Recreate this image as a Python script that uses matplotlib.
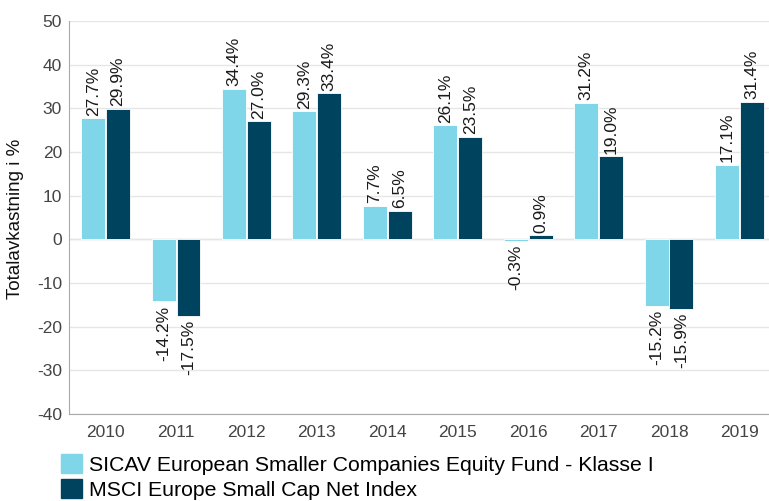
import matplotlib
matplotlib.use('Agg')
import matplotlib.pyplot as plt
from matplotlib.patches import Patch
import numpy as np

plt.rcParams['font.family'] = ['Liberation Sans', 'DejaVu Sans']
plt.rcParams['axes.unicode_minus'] = False

# data
years = ['2010', '2011', '2012', '2013', '2014', '2015', '2016', '2017', '2018', '2019']
fund = [27.7, -14.2, 34.4, 29.3, 7.7, 26.1, -0.3, 31.2, -15.2, 17.1]
index = [29.9, -17.5, 27.0, 33.4, 6.5, 23.5, 0.9, 19.0, -15.9, 31.4]
fund_name = 'SICAV European Smaller Companies Equity Fund - Klasse I'
index_name = 'MSCI Europe Small Cap Net Index'

light = '#7fd6e8'
dark = '#00435f'

fig = plt.figure(figsize=(7.69, 5.01), dpi=100)
ax = fig.add_axes([69/769, 87/501, 1 - 69/769, (414-21)/501])

x = np.arange(len(years))
w = 0.34
off = 0.177
b1 = ax.bar(x - off, fund, w, color=light, edgecolor='white', linewidth=0.6, zorder=3)
b2 = ax.bar(x + off, index, w, color=dark, edgecolor='white', linewidth=0.6, zorder=3)

for bars, vals in ((b1, fund), (b2, index)):
    for r, v in zip(bars, vals):
        xc = r.get_x() + r.get_width() / 2
        if v >= 0:
            ax.annotate('%.1f%%' % v, (xc, v), xytext=(0, 2), textcoords='offset points',
                        rotation=90, ha='center', va='bottom', fontsize=12.5, color='#1a1a1a')
        else:
            ax.annotate('%.1f%%' % v, (xc, v), xytext=(0, -3), textcoords='offset points',
                        rotation=90, ha='center', va='top', fontsize=12.5, color='#1a1a1a')

ax.set_ylim(-40, 50)
ax.set_yticks(range(-40, 51, 10))
ax.set_xlim(-0.52, 9.42)
ax.set_xticks(x)
ax.set_xticklabels(years)
ax.tick_params(axis='both', length=0, labelsize=12.5, labelcolor='#444444')
ax.tick_params(axis='x', pad=8)
ax.tick_params(axis='y', pad=5)
ax.grid(axis='y', color='#e6e6e6', linewidth=1, zorder=0)
ax.axhline(0, color='#e0e0e0', linewidth=1, zorder=1)
for s in ['top', 'right']:
    ax.spines[s].set_visible(False)
ax.spines['left'].set_color('#aaaaaa')
ax.spines['bottom'].set_color('#aaaaaa')
ax.set_ylabel('Totalavkastning i %', fontsize=13.5, color='#111111')
ax.yaxis.set_label_coords(-45/700, (501-219-87)/393)

handles = [Patch(color=light), Patch(color=dark)]
fig.legend(handles, [fund_name, index_name], loc='upper left', bbox_to_anchor=(61/769, 0.094),
           frameon=False, fontsize=15.3, handlelength=1.0, handleheight=1.0,
           handletextpad=0.33, labelspacing=0.22, borderpad=0, borderaxespad=0)

plt.savefig('out.png', dpi=100)
